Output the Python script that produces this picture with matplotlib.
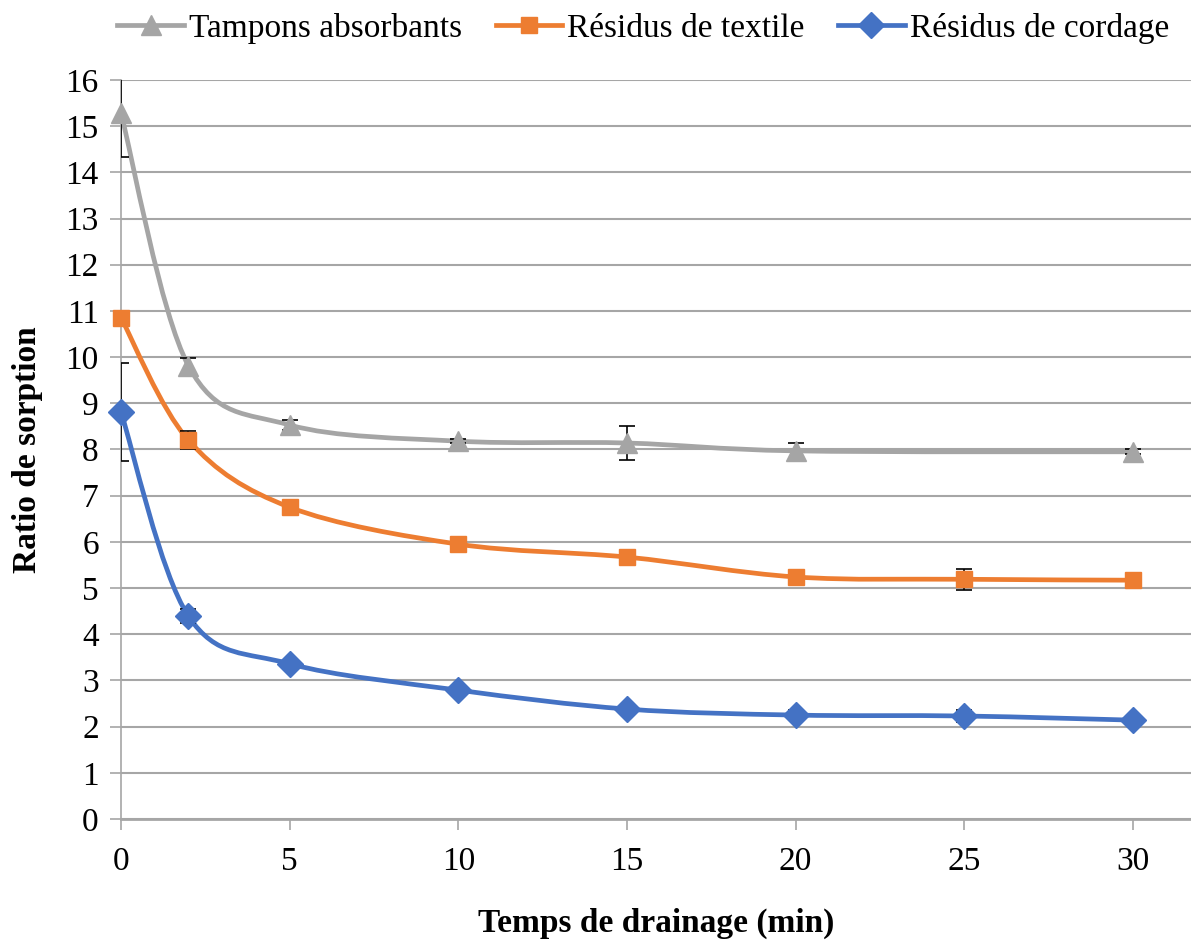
import numpy as np
import matplotlib
matplotlib.use("Agg")
from matplotlib import pyplot as plt
from matplotlib.path import Path
from matplotlib.patches import PathPatch
from matplotlib.lines import Line2D

plt.rcParams["font.family"] = ["Liberation Serif", "DejaVu Serif"]

# Data
t_tampons = [0, 2, 5, 10, 15, 20, 30]
y_tampons = [15.28, 9.81, 8.53, 8.18, 8.14, 7.97, 7.95]
e_tampons = [0.95, 0.18, 0.1, 0.05, 0.37, 0.18, 0.05]

t_textile = [0, 2, 5, 10, 15, 20, 25, 30]
y_textile = [10.85, 8.20, 6.75, 5.95, 5.67, 5.24, 5.19, 5.17]
e_textile = [0.05, 0.2, 0.05, 0.12, 0.05, 0.05, 0.23, 0.05]

t_cordage = [0, 2, 5, 10, 15, 20, 25, 30]
y_cordage = [8.81, 4.39, 3.36, 2.79, 2.38, 2.25, 2.23, 2.14]
e_cordage = [1.06, 0.15, 0.05, 0.05, 0.05, 0.1, 0.13, 0.05]

labels = ["Tampons absorbants", "Résidus de textile", "Résidus de cordage"]
colors = ["#A5A5A5", "#ED7D31", "#4472C4"]
markers = ["^", "s", "D"]
msizes = [15, 12, 13]


def smooth_path(x, y):
    """Bezier path through the points (Excel-like smoothed line)."""
    pts = np.column_stack([x, y]).astype(float)
    verts = [pts[0]]
    codes = [Path.MOVETO]
    n = len(pts)
    for i in range(n - 1):
        p0 = pts[i - 1] if i > 0 else pts[i]
        p1 = pts[i]
        p2 = pts[i + 1]
        p3 = pts[i + 2] if i + 2 < n else pts[i + 1]
        c1 = p1 + (p2 - p0) / 6.0
        c2 = p2 - (p3 - p1) / 6.0
        verts += [c1, c2, p2]
        codes += [Path.CURVE4] * 3
    return Path(verts, codes)


fig = plt.figure(figsize=(11.91, 9.43), dpi=100)
ax = fig.add_axes([0.1016, 0.1315, 0.8984, 0.7837])

series = [
    (t_tampons, y_tampons, e_tampons),
    (t_textile, y_textile, e_textile),
    (t_cordage, y_cordage, e_cordage),
]

handles = []
for (t, y, e), lab, c, m, ms in zip(series, labels, colors, markers, msizes):
    patch = PathPatch(smooth_path(t, y), facecolor="none", edgecolor=c, lw=3.4, zorder=3)
    ax.add_patch(patch)
    ax.errorbar(t, y, yerr=e, fmt="none", ecolor="black", elinewidth=1.2,
                capsize=6, capthick=1.2, zorder=4)
    ax.plot(t, y, linestyle="none", marker=m, markersize=ms, color=c, zorder=5,
            clip_on=False)
    handles.append(Line2D([0], [0], color=c, lw=3.4, marker=m, markersize=ms))

ax.set_xlim(0, 31.72)
ax.set_ylim(0, 16)
ax.set_xticks([0, 5, 10, 15, 20, 25, 30])
ax.set_yticks(range(0, 17))
ax.yaxis.grid(True, color="#A6A6A6", lw=1.5)
ax.set_axisbelow(True)

for s in ["top", "right"]:
    ax.spines[s].set_visible(False)
ax.spines["left"].set_color("#A6A6A6")
ax.spines["left"].set_linewidth(1.2)
ax.spines["bottom"].set_color("#A6A6A6")
ax.spines["bottom"].set_linewidth(2)
ax.tick_params(axis="both", colors="#A6A6A6", labelcolor="black", labelsize=24,
               length=8, width=1.2, direction="out")
ax.tick_params(axis="x", pad=12)
ax.tick_params(axis="y", pad=8)

ax.set_xlabel("Temps de drainage (min)", fontsize=24, fontweight="bold", labelpad=22)
ax.set_ylabel("Ratio de sorption", fontsize=24, fontweight="bold", labelpad=16)

fig.legend(handles, labels, loc="upper center", bbox_to_anchor=(0.54, 1.018), ncol=3,
           frameon=False, fontsize=24, handlelength=2.0, handletextpad=0.15,
           columnspacing=1.0)

fig.savefig("out.png", dpi=100)
